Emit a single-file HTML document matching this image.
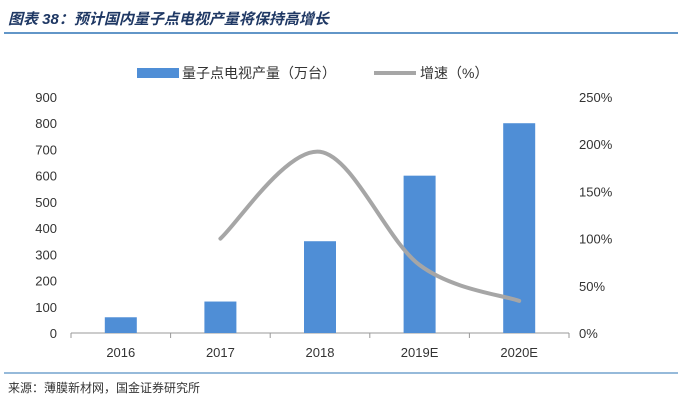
<!DOCTYPE html>
<html><head><meta charset="utf-8"><style>
body{margin:0;width:682px;height:401px;background:#fff;font-family:"Liberation Sans","Noto Sans CJK SC",sans-serif;overflow:hidden}
</style></head><body>
<svg width="682" height="401" xmlns="http://www.w3.org/2000/svg" font-family="Liberation Sans, Noto Sans CJK SC, sans-serif">
<text x="8" y="24" font-size="15" font-weight="bold" font-style="italic" fill="#1f3864">图表 38：预计国内量子点电视产量将保持高增长</text>
<line x1="4" y1="33" x2="678" y2="33" stroke="#2e74b5" stroke-width="1.5"/>
<g>
<rect x="137" y="68" width="42" height="10" fill="#4f8ed6"/>
<text x="182" y="78" font-size="14" fill="#333">量子点电视产量（万台）</text>
<line x1="374" y1="73" x2="416" y2="73" stroke="#a6a6a6" stroke-width="4"/>
<text x="420" y="78" font-size="14" fill="#333">增速（%）</text>
</g>
<g id="axes"></g>
<g id="bars"></g>
<path id="line" fill="none" stroke="#a6a6a6" stroke-width="4" stroke-linecap="round"/>
<line x1="4" y1="373" x2="678" y2="373" stroke="#2e74b5" stroke-width="1"/>
<text x="8" y="392" font-size="12" fill="#333">来源：薄膜新材网，国金证券研究所</text>
</svg>
<script>
const categories=["2016","2017","2018","2019E","2020E"];
const production=[60,120,350,600,800];
const growth=[null,100,192,72,34];
const leftTicks=[0,100,200,300,400,500,600,700,800,900];
const rightTicks=[0,50,100,150,200,250];
const ns="http://www.w3.org/2000/svg";
const X0=71,X1=569,Y0=333,Y1=97;
const band=(X1-X0)/categories.length;
const xc=i=>X0+band*(i+0.5);
const yL=v=>Y0-(v/900)*(Y0-Y1);
const yR=v=>Y0-(v/250)*(Y0-Y1);
function mk(t,a,p){const e=document.createElementNS(ns,t);for(const k in a)e.setAttribute(k,a[k]);p.appendChild(e);return e;}
const ax=document.getElementById('axes');
leftTicks.forEach(v=>{const t=mk('text',{x:X0-14,y:yL(v)+5,'text-anchor':'end','font-size':13,fill:'#333'},ax);t.textContent=v;

});
rightTicks.forEach(v=>{const t=mk('text',{x:X1+10,y:yR(v)+5,'font-size':13,fill:'#333'},ax);t.textContent=v+'%';

});
const base=mk('line',{x1:X0,y1:Y0,x2:X1,y2:Y0,stroke:'#999'},ax);


for(let i=0;i<=categories.length;i++){const l=mk('line',{x1:X0+band*i,y1:Y0,x2:X0+band*i,y2:Y0+5,stroke:'#999'},ax);

}
categories.forEach((c,i)=>{const t=mk('text',{x:xc(i),y:357,'text-anchor':'middle','font-size':13,fill:'#333'},ax);t.textContent=c;

});
const bg=document.getElementById('bars');
production.forEach((v,i)=>{const r=mk('rect',{x:xc(i)-16,y:yL(v),width:32,height:Y0-yL(v),fill:'#4f8ed6'},bg);

});
const pts=[];growth.forEach((v,i)=>{if(v!==null)pts.push([xc(i),yR(v)]);});
let d='M'+pts[0][0]+','+pts[0][1];
for(let i=0;i<pts.length-1;i++){const p0=pts[i-1]||pts[i],p1=pts[i],p2=pts[i+1],p3=pts[i+2]||p2;
const c1=[p1[0]+(p2[0]-p0[0])/6,p1[1]+(p2[1]-p0[1])/6],c2=[p2[0]-(p3[0]-p1[0])/6,p2[1]-(p3[1]-p1[1])/6];
d+=` C${c1[0]},${c1[1]} ${c2[0]},${c2[1]} ${p2[0]},${p2[1]}`;}
document.getElementById('line').setAttribute('d',d);
</script>
</body></html>
